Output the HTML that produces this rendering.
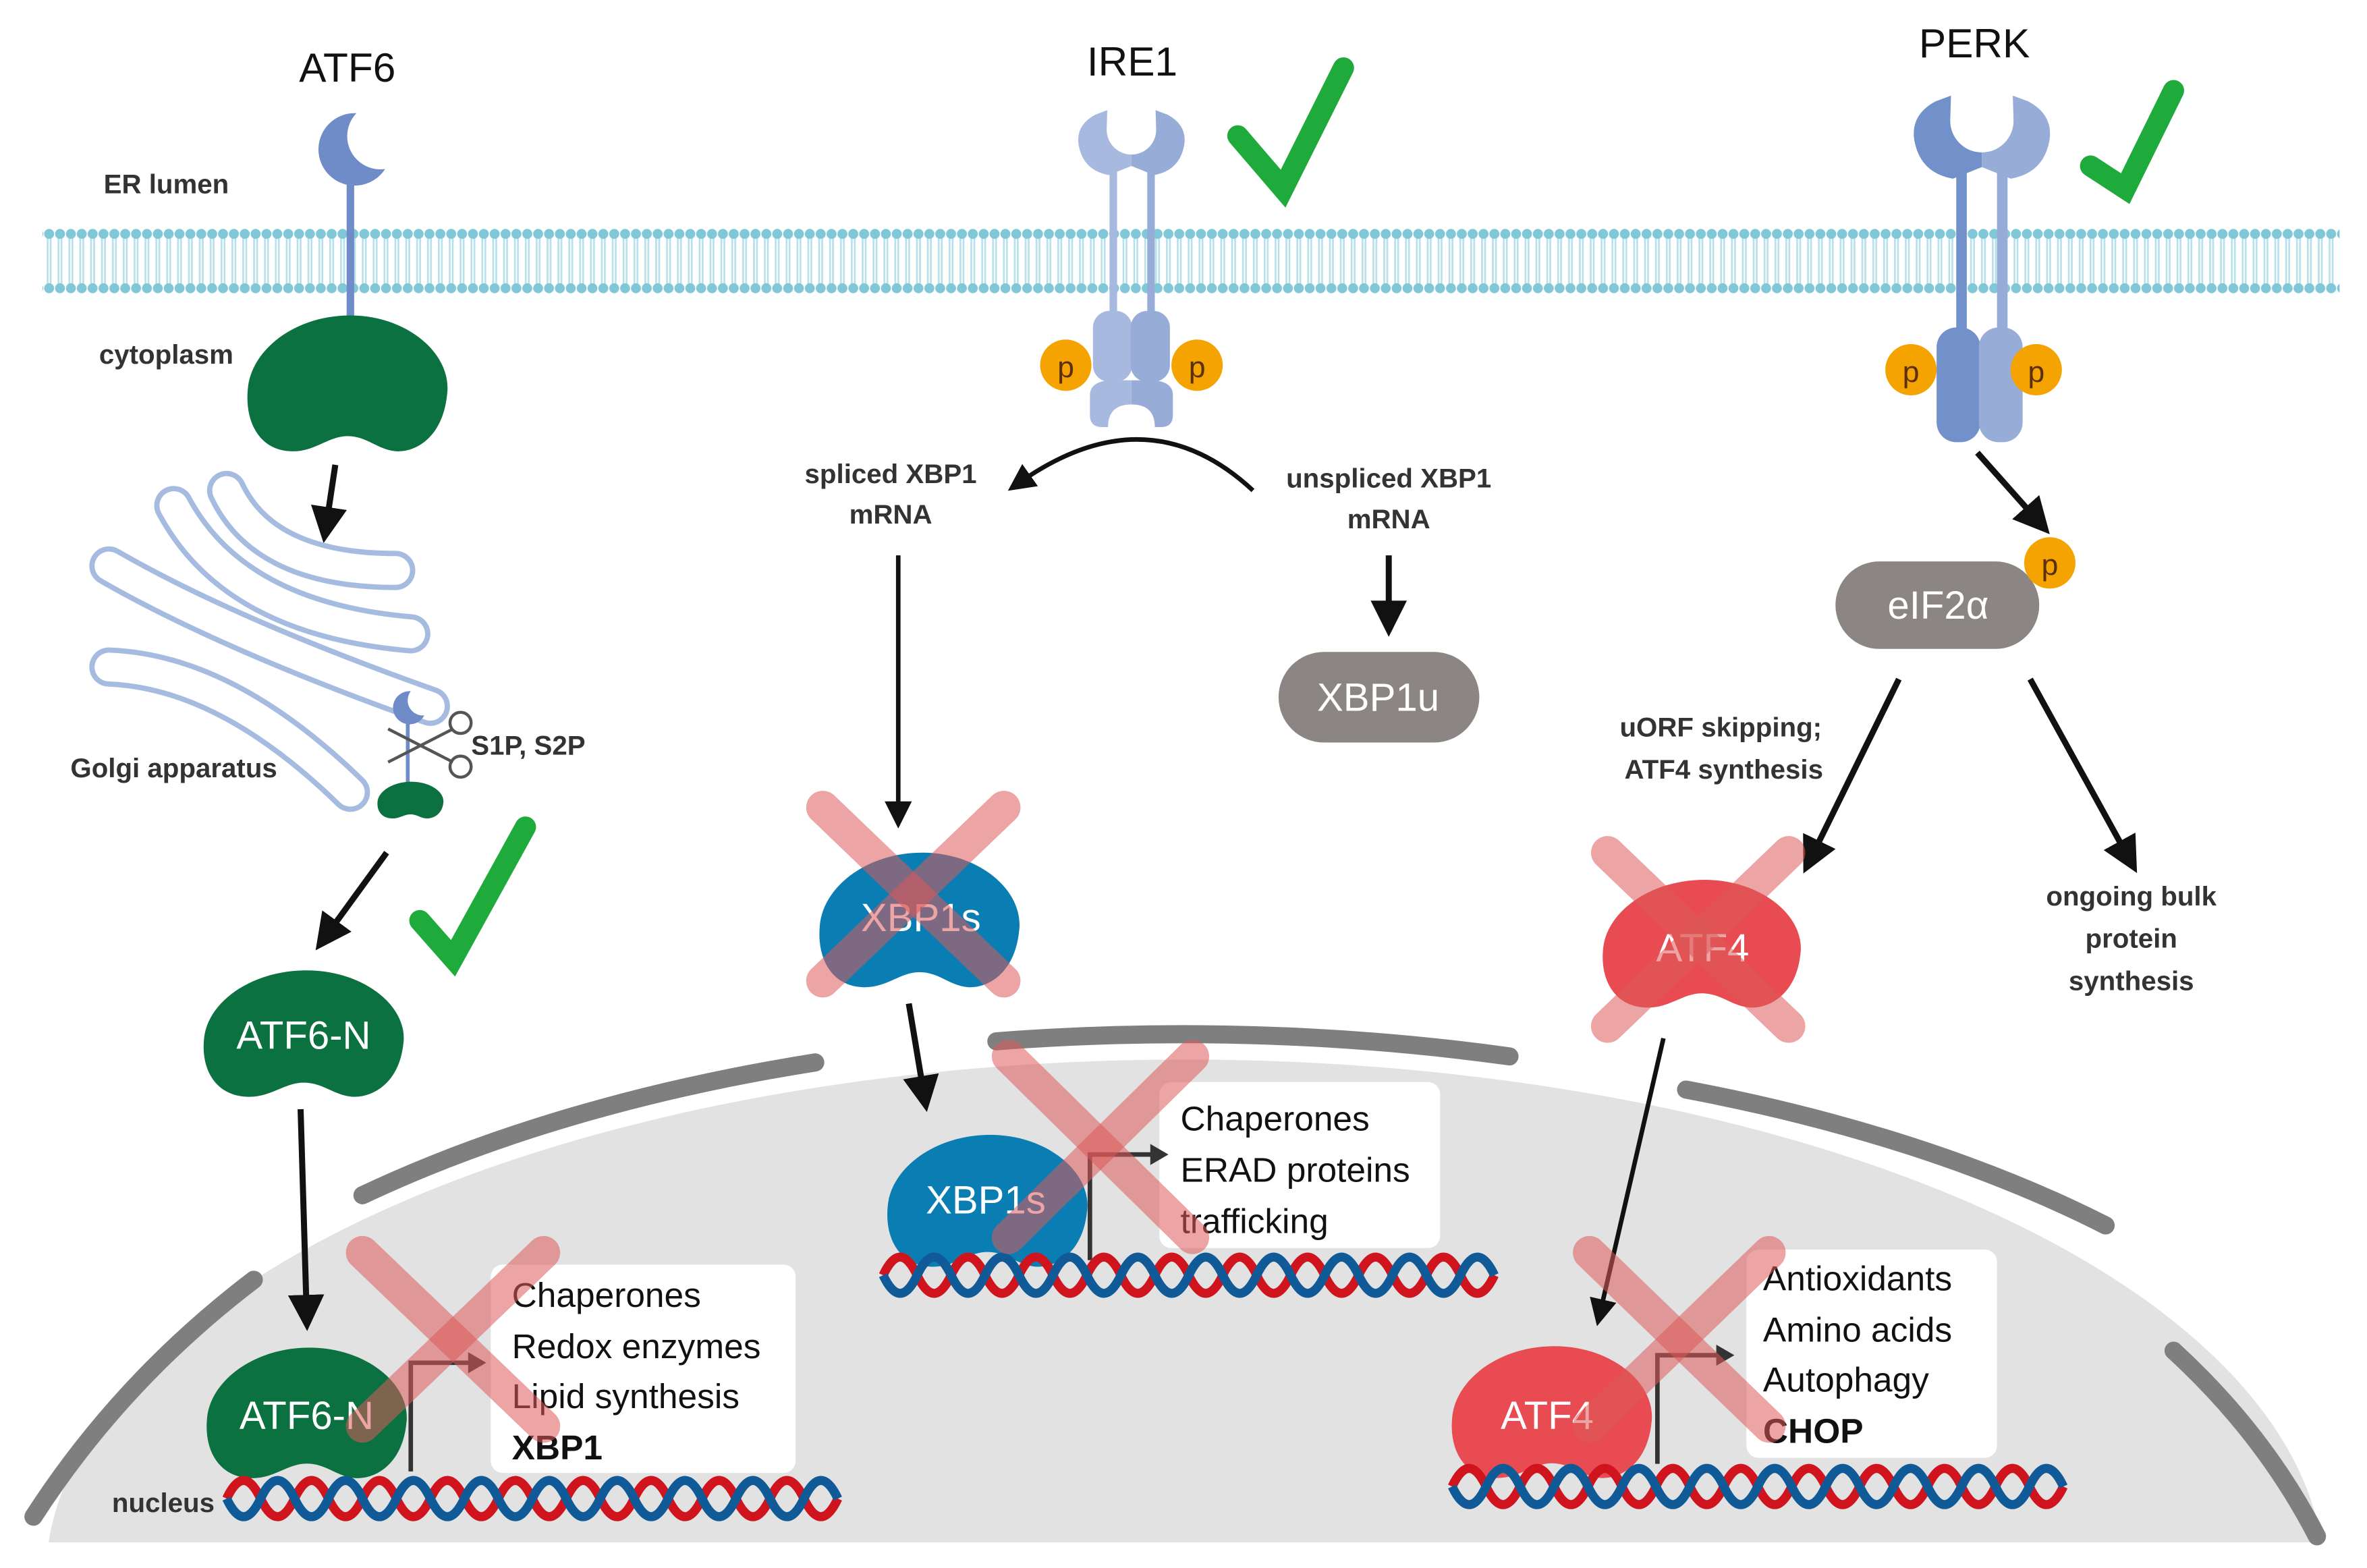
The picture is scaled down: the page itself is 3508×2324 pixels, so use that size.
<!DOCTYPE html>
<html><head><meta charset="utf-8">
<style>
html,body{margin:0;padding:0;background:#fff;}
svg{display:block;}
text{font-family:"Liberation Sans",sans-serif;}
</style></head>
<body>
<svg width="3508" height="2324" viewBox="0 0 1568 1039" xmlns="http://www.w3.org/2000/svg">
<defs>
<pattern id="mem" x="0" y="150" width="7.2" height="46" patternUnits="userSpaceOnUse">
<rect width="7.2" height="46" fill="#fff"/>
<line x1="2.6" y1="5" x2="2.6" y2="41" stroke="#b9e0ea" stroke-width="1.2"/>
<line x1="4.6" y1="5" x2="4.6" y2="41" stroke="#b9e0ea" stroke-width="1.2"/>
<circle cx="3.6" cy="5" r="3.3" fill="#80c7d8"/>
<circle cx="3.6" cy="41" r="3.3" fill="#80c7d8"/>
</pattern>
<marker id="ah" markerWidth="6" markerHeight="6" refX="3" refY="3" orient="auto" markerUnits="strokeWidth">
<path d="M0,0 L6,3 L0,6 Z" fill="#111"/></marker>
<path id="k" d="M68,0 C106,0 136,26 132,53 C129,81 111,91 98,90 C86,89 79,80 66,80 C53,80 44,91 28,90 C8,89 -2,71 0,49 C2,23 31,0 68,0 Z"/>
<path id="cupL" d="M-16,-13 L-24,-10 Q-37,-3 -35,10 Q-32,27 -15,30 L0,24 L0,16.4 A16.4,16.4 0 0,1 -16.4,0 Z"/>
</defs>
<rect width="1568" height="1039" fill="#fff"/>

<!-- nucleus -->
<path d="M32,1022 A755,345 0 0,1 1538,1022 Z" fill="#e2e2e2"/>
<g fill="none" stroke="#7f7f7f" stroke-width="12" stroke-linecap="round">
<path d="M22,1005 Q80,915 168,848"/>
<path d="M240,792 A770,365 0 0,1 540,704"/>
<path d="M660,690 A770,365 0 0,1 1000,700"/>
<path d="M1117,722 A770,365 0 0,1 1395,812"/>
<path d="M1440,895 Q1500,950 1535,1018"/>
</g>

<!-- membrane -->
<rect x="28" y="150" width="1522" height="46" fill="url(#mem)"/>

<!-- labels -->
<text x="230" y="54" font-size="27" text-anchor="middle" fill="#111">ATF6</text>
<text x="750" y="50" font-size="27" text-anchor="middle" fill="#111">IRE1</text>
<text x="1308" y="38" font-size="27" text-anchor="middle" fill="#111">PERK</text>
<text x="110" y="128" font-size="18" font-weight="bold" text-anchor="middle" fill="#333">ER lumen</text>
<text x="110" y="241" font-size="18" font-weight="bold" text-anchor="middle" fill="#333">cytoplasm</text>
<text x="115" y="515" font-size="18" font-weight="bold" text-anchor="middle" fill="#333">Golgi apparatus</text>
<text x="108" y="1002" font-size="18" font-weight="bold" text-anchor="middle" fill="#333">nucleus</text>

<!-- ATF6 receptor -->
<line x1="232" y1="110" x2="232" y2="215" stroke="#6f8cc8" stroke-width="5"/>
<path d="M236,75 A24,24 0 1,0 255,112 A22,22 0 0,1 236,75 Z" fill="#6f8cc8"/>
<path d="M232,209 C270,209 300,235 296,262 C293,290 275,300 262,299 C250,298 243,289 230,289 C217,289 208,300 192,299 C172,298 162,280 164,258 C166,232 195,209 232,209 Z" fill="#0b7140"/>
<line x1="222" y1="308" x2="216" y2="348" stroke="#111" stroke-width="4" marker-end="url(#ah)"/>

<!-- Golgi -->
<g fill="none" stroke="#a6bbe0" stroke-width="26" stroke-linecap="round">
<path d="M150,325 Q175,378 262,378"/>
<path d="M115,335 Q155,410 272,420"/>
<path d="M72,375 Q150,420 285,468"/>
<path d="M72,442 Q150,445 232,525"/>
</g>
<g fill="none" stroke="#fff" stroke-width="19" stroke-linecap="round">
<path d="M150,325 Q175,378 262,378"/>
<path d="M115,335 Q155,410 272,420"/>
<path d="M72,375 Q150,420 285,468"/>
<path d="M72,442 Q150,445 232,525"/>
</g>
<line x1="270" y1="470" x2="270" y2="525" stroke="#6f8cc8" stroke-width="2.5"/>
<path d="M272,458 A11,11 0 1,0 281,474 A10,10 0 0,1 272,458 Z" fill="#6f8cc8"/>
<use href="#k" transform="translate(250,518) scale(0.33,0.27)" fill="#0b7140"/>
<g stroke="#555" stroke-width="2" fill="none">
<line x1="257" y1="483" x2="300" y2="505"/><line x1="257" y1="505" x2="300" y2="483"/>
<circle cx="305" cy="479" r="7"/><circle cx="305" cy="508" r="7"/>
</g>
<text x="312" y="500" font-size="18" font-weight="bold" fill="#333">S1P, S2P</text>

<!-- ATF6-N -->
<line x1="256" y1="565" x2="216" y2="620" stroke="#111" stroke-width="4" marker-end="url(#ah)"/>
<path d="M278,610 L300,635 L348,548" fill="none" stroke="#1faa3c" stroke-width="14" stroke-linecap="round"/>
<use href="#k" transform="translate(135,643) scale(1.0,0.93)" fill="#0b7140"/>
<text x="201" y="695" font-size="26" text-anchor="middle" fill="#fff">ATF6-N</text>
<line x1="199" y1="735" x2="203" y2="870" stroke="#111" stroke-width="4" marker-end="url(#ah)"/>

<!-- ATF6 nucleus -->
<rect x="325" y="838" width="202" height="138" rx="8" fill="#fff"/>
<text font-size="23" fill="#111"><tspan x="339" y="866">Chaperones</tspan><tspan x="339" y="900">Redox enzymes</tspan><tspan x="339" y="933">Lipid synthesis</tspan><tspan x="339" y="967" font-weight="bold">XBP1</tspan></text>
<use href="#k" transform="translate(137,893) scale(1.0,0.96)" fill="#0b7140"/>
<text x="203" y="947" font-size="26" text-anchor="middle" fill="#fff">ATF6-N</text>
<path d="M272,975 L272,903 L318,903" fill="none" stroke="#333" stroke-width="3"/>
<path d="M310,896 L322,903 L310,910" fill="#333"/>

<!-- IRE1 -->
<g fill="#a8b9e0">
<use href="#cupL" transform="translate(749.5,86)"/>
<rect x="735" y="108" width="5" height="100"/>
<rect x="724" y="206" width="26" height="47" rx="11"/>
<path d="M722,262 Q722,253 735,252 L749.5,252 L749.5,268 Q734,268 734,283 L730,283 Q722,283 722,275 Z"/>
</g>
<g fill="#98acd8">
<use href="#cupL" transform="translate(749.5,86) scale(-1,1)"/>
<rect x="760" y="108" width="5" height="100"/>
<rect x="749" y="206" width="26" height="47" rx="11"/>
<path d="M777,262 Q777,253 764,252 L749.5,252 L749.5,268 Q765,268 765,283 L769,283 Q777,283 777,275 Z"/>
</g>
<circle cx="706" cy="242" r="17" fill="#f5a300"/><text x="706" y="250" font-size="20" text-anchor="middle" font-family="Liberation Serif" fill="#5a3010">p</text>
<circle cx="793" cy="242" r="17" fill="#f5a300"/><text x="793" y="250" font-size="20" text-anchor="middle" font-family="Liberation Serif" fill="#5a3010">p</text>
<path d="M820,90 L850,125 L890,45" fill="none" stroke="#1faa3c" stroke-width="14" stroke-linecap="round"/>
<path d="M830,325 Q760,260 675,320" fill="none" stroke="#111" stroke-width="3" marker-end="url(#ah)"/>
<text font-size="18" font-weight="bold" fill="#333" text-anchor="middle"><tspan x="590" y="320">spliced XBP1</tspan><tspan x="590" y="347">mRNA</tspan></text>
<text font-size="18" font-weight="bold" fill="#333" text-anchor="middle"><tspan x="920" y="323">unspliced XBP1</tspan><tspan x="920" y="350">mRNA</tspan></text>
<line x1="920" y1="368" x2="920" y2="410" stroke="#111" stroke-width="4" marker-end="url(#ah)"/>
<rect x="847" y="432" width="133" height="60" rx="30" fill="#8b8583"/>
<text x="913" y="471" font-size="26" text-anchor="middle" fill="#fff">XBP1u</text>
<line x1="595" y1="368" x2="595" y2="540" stroke="#111" stroke-width="3" marker-end="url(#ah)"/>
<use href="#k" transform="translate(543,565) scale(1.0,0.99)" fill="#0a7db3"/>
<text x="610" y="617" font-size="26" text-anchor="middle" fill="#fff">XBP1s</text>
<line x1="602" y1="665" x2="612" y2="725" stroke="#111" stroke-width="4" marker-end="url(#ah)"/>
<rect x="768" y="717" width="186" height="110" rx="8" fill="#fff"/>
<text font-size="23" fill="#111"><tspan x="782" y="749">Chaperones</tspan><tspan x="782" y="783">ERAD proteins</tspan><tspan x="782" y="817">trafficking</tspan></text>
<use href="#k" transform="translate(588,752) scale(1.0,0.97)" fill="#0a7db3"/>
<text x="653" y="804" font-size="26" text-anchor="middle" fill="#fff">XBP1s</text>
<path d="M722,835 L722,765 L770,765" fill="none" stroke="#333" stroke-width="3"/>
<path d="M762,758 L774,765 L762,772" fill="#333"/>

<!-- PERK -->
<g fill="#7290c9">
<use href="#cupL" transform="translate(1313,80) scale(1.28)"/>
<rect x="1296" y="110" width="7" height="110"/>
<rect x="1283" y="217" width="29" height="76" rx="13"/>
</g>
<g fill="#98acd8">
<use href="#cupL" transform="translate(1313,80) scale(-1.28,1.28)"/>
<rect x="1323" y="110" width="7" height="110"/>
<rect x="1311" y="217" width="29" height="76" rx="13"/>
</g>
<circle cx="1266" cy="245" r="17" fill="#f5a300"/><text x="1266" y="253" font-size="20" text-anchor="middle" font-family="Liberation Serif" fill="#5a3010">p</text>
<circle cx="1349" cy="245" r="17" fill="#f5a300"/><text x="1349" y="253" font-size="20" text-anchor="middle" font-family="Liberation Serif" fill="#5a3010">p</text>
<path d="M1385,110 L1408,125 L1440,60" fill="none" stroke="#1faa3c" stroke-width="14" stroke-linecap="round"/>
<line x1="1310" y1="300" x2="1350" y2="345" stroke="#111" stroke-width="4" marker-end="url(#ah)"/>
<rect x="1216" y="372" width="135" height="58" rx="29" fill="#8b8583"/>
<text x="1284" y="410" font-size="26" text-anchor="middle" fill="#fff">eIF2α</text>
<circle cx="1358" cy="373" r="17" fill="#f5a300"/><text x="1358" y="381" font-size="20" text-anchor="middle" font-family="Liberation Serif" fill="#5a3010">p</text>
<line x1="1258" y1="450" x2="1200" y2="568" stroke="#111" stroke-width="4" marker-end="url(#ah)"/>
<line x1="1345" y1="450" x2="1410" y2="568" stroke="#111" stroke-width="4" marker-end="url(#ah)"/>
<text font-size="18" font-weight="bold" fill="#333" text-anchor="middle"><tspan x="1140" y="488">uORF skipping;</tspan><tspan x="1142" y="516">ATF4 synthesis</tspan></text>
<text font-size="18" font-weight="bold" fill="#333" text-anchor="middle"><tspan x="1412" y="600">ongoing bulk</tspan><tspan x="1412" y="628">protein</tspan><tspan x="1412" y="656">synthesis</tspan></text>
<use href="#k" transform="translate(1062,583) scale(0.99,0.94)" fill="#e84c52"/>
<text x="1128" y="637" font-size="26" text-anchor="middle" fill="#fff">ATF4</text>
<line x1="1102" y1="688" x2="1060" y2="870" stroke="#111" stroke-width="3" marker-end="url(#ah)"/>
<rect x="1157" y="828" width="166" height="138" rx="8" fill="#fff"/>
<text font-size="23" fill="#111"><tspan x="1168" y="855">Antioxidants</tspan><tspan x="1168" y="889">Amino acids</tspan><tspan x="1168" y="922">Autophagy</tspan><tspan x="1168" y="956" font-weight="bold">CHOP</tspan></text>
<use href="#k" transform="translate(962,892) scale(1.0,0.97)" fill="#e84c52"/>
<text x="1025" y="947" font-size="26" text-anchor="middle" fill="#fff">ATF4</text>
<path d="M1098,970 L1098,898 L1145,898" fill="none" stroke="#333" stroke-width="3"/>
<path d="M1137,891 L1149,898 L1137,905" fill="#333"/>

<!-- DNA -->
<g fill="none" stroke-width="6">
<path d="M150,993 q11.25,-24 22.5,0 t22.5,0 t22.5,0 t22.5,0 t22.5,0 t22.5,0 t22.5,0 t22.5,0 t22.5,0 t22.5,0 t22.5,0 t22.5,0 t22.5,0 t22.5,0 t22.5,0 t22.5,0 t22.5,0 t22.5,0" stroke="#d0141e"/>
<path d="M150,993 q11.25,24 22.5,0 t22.5,0 t22.5,0 t22.5,0 t22.5,0 t22.5,0 t22.5,0 t22.5,0 t22.5,0 t22.5,0 t22.5,0 t22.5,0 t22.5,0 t22.5,0 t22.5,0 t22.5,0 t22.5,0 t22.5,0" stroke="#0f5a97"/>
<path d="M585,845 q11.25,-24 22.5,0 t22.5,0 t22.5,0 t22.5,0 t22.5,0 t22.5,0 t22.5,0 t22.5,0 t22.5,0 t22.5,0 t22.5,0 t22.5,0 t22.5,0 t22.5,0 t22.5,0 t22.5,0 t22.5,0 t22.5,0" stroke="#d0141e"/>
<path d="M585,845 q11.25,24 22.5,0 t22.5,0 t22.5,0 t22.5,0 t22.5,0 t22.5,0 t22.5,0 t22.5,0 t22.5,0 t22.5,0 t22.5,0 t22.5,0 t22.5,0 t22.5,0 t22.5,0 t22.5,0 t22.5,0 t22.5,0" stroke="#0f5a97"/>
<path d="M962,985 q11.25,-24 22.5,0 t22.5,0 t22.5,0 t22.5,0 t22.5,0 t22.5,0 t22.5,0 t22.5,0 t22.5,0 t22.5,0 t22.5,0 t22.5,0 t22.5,0 t22.5,0 t22.5,0 t22.5,0 t22.5,0 t22.5,0" stroke="#d0141e"/>
<path d="M962,985 q11.25,24 22.5,0 t22.5,0 t22.5,0 t22.5,0 t22.5,0 t22.5,0 t22.5,0 t22.5,0 t22.5,0 t22.5,0 t22.5,0 t22.5,0 t22.5,0 t22.5,0 t22.5,0 t22.5,0 t22.5,0 t22.5,0" stroke="#0f5a97"/>
</g>

<!-- red crosses -->
<g stroke="#dd5a5a" stroke-opacity="0.55" stroke-width="22" stroke-linecap="round">
<line x1="545" y1="535" x2="665" y2="650"/><line x1="665" y1="535" x2="545" y2="650"/>
<line x1="1065" y1="565" x2="1185" y2="680"/><line x1="1185" y1="565" x2="1065" y2="680"/>
<line x1="668" y1="700" x2="790" y2="820"/><line x1="790" y1="700" x2="668" y2="820"/>
<line x1="240" y1="830" x2="360" y2="945"/><line x1="360" y1="830" x2="240" y2="945"/>
<line x1="1053" y1="830" x2="1172" y2="945"/><line x1="1172" y1="830" x2="1053" y2="945"/>
</g>
</svg>
</body></html>
